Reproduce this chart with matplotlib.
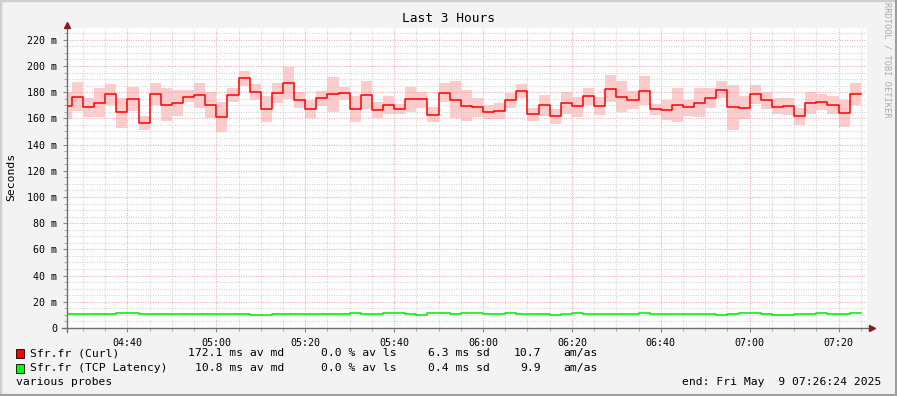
#!/usr/bin/env python3
# -*- coding: utf-8 -*-
"""
Smokeping 風格延遲圖 (Last 3 Hours)
"""

import pandas as pd
import matplotlib

matplotlib.use("Agg")
import matplotlib.pyplot as plt
import matplotlib.dates as mdates
from matplotlib.ticker import MultipleLocator, FuncFormatter
from matplotlib.patches import Rectangle
from matplotlib.lines import Line2D

W, H = 897, 396
MONO = "DejaVu Sans Mono"

# 時間範圍 (每格 150 秒, 第一格不完整)
start_time = "2025-05-09 04:26:24"
end_time = "2025-05-09 07:26:24"
first_edge = "2025-05-09 04:27:30"
step_seconds = 150

# Sfr.fr (Curl) 中位數與煙霧帶 (ms)
curl_median = [
    169.1, 176.0, 168.6, 171.4, 178.3, 164.8, 174.7, 156.4, 179.0, 170.1,
    171.7, 176.7, 177.5, 170.1, 161.0, 177.8, 190.7, 180.3, 167.3, 179.3,
    186.9, 174.2, 167.3, 175.7, 178.5, 179.3, 167.3, 177.8, 166.3, 170.1,
    167.3, 175.0, 175.0, 162.5, 179.3, 173.9, 169.6, 168.6, 164.8, 165.5,
    173.9, 180.8, 163.3, 170.1, 161.7, 171.4, 169.4, 177.0, 169.4, 182.3,
    176.7, 173.9, 180.8, 167.3, 166.3, 170.1, 168.6, 171.7, 175.7, 181.8,
    168.6, 167.8, 178.5, 173.9, 168.6, 169.4, 161.7, 171.7, 172.4, 170.1,
    164.0, 178.5,
]
curl_high = [
    180.0, 188.0, 175.2, 182.9, 186.2, 175.7, 184.1, 162.0, 187.2, 182.9,
    181.8, 181.8, 186.9, 180.0, 172.6, 183.4, 196.3, 186.4, 177.0, 187.2,
    199.6, 179.8, 174.2, 181.1, 191.8, 184.1, 177.2, 188.7, 172.6, 177.0,
    171.1, 184.1, 180.0, 168.8, 187.2, 188.7, 181.8, 175.7, 170.1, 171.7,
    179.5, 186.4, 168.1, 178.0, 167.3, 179.8, 176.2, 183.4, 176.2, 193.3,
    188.7, 181.1, 192.5, 170.9, 174.4, 182.9, 174.4, 182.9, 182.9, 188.9,
    185.6, 177.2, 185.6, 180.3, 175.2, 175.7, 168.1, 179.8, 178.8, 177.0,
    174.4, 187.2,
]
curl_low = [
    159.4, 165.3, 161.2, 161.2, 170.4, 153.0, 165.8, 151.3, 170.4, 157.7,
    161.5, 172.2, 167.6, 160.2, 149.3, 172.2, 185.1, 173.7, 156.9, 171.4,
    174.7, 167.6, 160.5, 169.1, 164.5, 173.7, 156.9, 167.1, 160.5, 163.0,
    163.0, 165.0, 168.3, 156.9, 172.2, 160.2, 157.7, 161.2, 159.2, 159.9,
    168.3, 175.2, 157.7, 162.0, 156.1, 163.3, 161.2, 170.4, 162.8, 172.2,
    164.5, 167.3, 169.9, 162.8, 158.4, 156.9, 162.0, 161.2, 168.3, 175.2,
    151.3, 159.2, 171.1, 167.3, 163.0, 162.5, 154.6, 163.3, 166.6, 163.0,
    153.8, 170.1,
]

# Sfr.fr (TCP Latency) 中位數 (ms)
tcp_median = [
    10.7, 10.7, 10.7, 10.7, 10.7, 11.5, 11.5, 10.7, 10.7, 10.7,
    10.7, 10.7, 10.7, 10.7, 10.7, 10.7, 10.7, 9.8, 9.8, 10.7,
    10.7, 10.7, 10.7, 10.7, 10.7, 10.7, 11.5, 10.5, 10.5, 11.5,
    11.5, 10.5, 9.8, 11.5, 11.5, 10.7, 11.5, 11.5, 10.7, 11.0,
    11.5, 10.7, 10.7, 10.7, 9.8, 10.5, 11.5, 10.5, 10.5, 10.5,
    10.5, 10.5, 11.5, 10.5, 10.5, 10.5, 10.5, 10.5, 10.5, 9.8,
    10.7, 11.5, 11.5, 10.7, 10.0, 10.0, 10.5, 10.7, 11.5, 10.7,
    10.7, 11.5,
]

# 圖例文字
legend_names = ["Sfr.fr (Curl)", "Sfr.fr (TCP Latency)"]
legend_colors = ["#ff0000", "#00ff00"]
legend_avg = ["172.1", "10.8"]
legend_loss = ["0.0", "0.0"]
legend_sd = ["6.3", "0.4"]
legend_amas = ["10.7", "9.9"]

y_ticks = [0, 20, 40, 60, 80, 100, 120, 140, 160, 180, 200, 220]


def px(x, y):
    """像素座標轉換為 figure 比例"""
    return x / W, 1 - y / H


def main():
    fig = plt.figure(figsize=(W / 100, H / 100), dpi=100, facecolor="#f3f3f3")

    # 外框陰影
    fig.patches.append(Rectangle((0, 0), 1, 1, transform=fig.transFigure,
                                 fill=False, edgecolor="#cfcfcf", linewidth=2.5))
    fig.add_artist(Line2D([1 - 1.5 / W, 1 - 1.5 / W], [0, 1], color="#9e9e9e",
                          linewidth=2.2, transform=fig.transFigure))
    fig.add_artist(Line2D([0, 1], [1.5 / H, 1.5 / H], color="#9e9e9e",
                          linewidth=2.2, transform=fig.transFigure))

    left, bottom = px(67, 328)
    ax = fig.add_axes([left, bottom, 800 / W, 300 / H], facecolor="white")

    n = len(curl_median)
    edges = pd.date_range(first_edge, periods=n, freq=f"{step_seconds}s")
    edges = edges.insert(0, pd.Timestamp(start_time))
    xs = edges.to_pydatetime()

    def ext(vals):
        return list(vals) + [vals[-1]]

    # 煙霧帶
    ax.fill_between(xs, ext(curl_low), ext(curl_high), step="post",
                    facecolor="#ffcccc", edgecolor="none", zorder=1)
    ax.fill_between(xs, ext([v - 0.4 for v in tcp_median]),
                    ext([v + 0.4 for v in tcp_median]), step="post",
                    facecolor="#ccffcc", edgecolor="none", zorder=1)

    # 中位數線
    ax.step(xs, ext(curl_median), where="post", color="#ff0000",
            linewidth=1.1, zorder=4)
    ax.step(xs, ext(tcp_median), where="post", color="#00ee00",
            linewidth=1.1, zorder=4)

    ax.set_xlim(pd.Timestamp(start_time), pd.Timestamp(end_time))
    ax.set_ylim(0, 229)

    # 格線
    ax.xaxis.set_major_locator(mdates.MinuteLocator(byminute=[0, 20, 40]))
    ax.xaxis.set_minor_locator(mdates.MinuteLocator(byminute=range(0, 60, 5)))
    ax.xaxis.set_major_formatter(mdates.DateFormatter("%H:%M"))
    ax.yaxis.set_major_locator(MultipleLocator(20))
    ax.yaxis.set_minor_locator(MultipleLocator(5))
    ax.set_yticks(y_ticks)
    ax.yaxis.set_major_formatter(
        FuncFormatter(lambda v, p: "0" if v == 0 else f"{int(v)} m"))

    dots = (0, (0.8, 1.4))
    ax.grid(which="minor", color="#cccccc", linestyle=dots, linewidth=0.8, zorder=2)
    ax.grid(which="major", color="#f0a0a0", linestyle=dots, linewidth=0.8, zorder=2)
    ax.set_axisbelow(False)

    for s in ax.spines.values():
        s.set_visible(False)

    ax.tick_params(which="major", length=3, width=0.8, color="#888888",
                   labelsize=7.2, labelfontfamily=MONO, labelcolor="#000000")
    ax.tick_params(which="minor", length=2, width=0.7, color="#aaaaaa")
    ax.tick_params(axis="x", which="major", pad=4)
    ax.tick_params(axis="y", which="major", pad=4)

    # 座標軸與箭頭
    ax.add_line(Line2D([-0.006, 1.004], [0, 0], transform=ax.transAxes,
                       color="#6f6f6f", linewidth=1.0, clip_on=False, zorder=5))
    ax.add_line(Line2D([0, 0], [-0.012, 1.0], transform=ax.transAxes,
                       color="#6f6f6f", linewidth=1.0, clip_on=False, zorder=5))
    ax.plot([1.006], [0], marker=">", markersize=4.5, color="#8b1a1a",
            transform=ax.transAxes, clip_on=False, zorder=6)
    ax.plot([0], [1.01], marker="^", markersize=4.5, color="#8b1a1a",
            transform=ax.transAxes, clip_on=False, zorder=6)

    # 標題與標籤
    fig.text(*px(448, 19), "Last 3 Hours", ha="center", va="center",
             fontsize=9.3, family=MONO)
    fig.text(*px(11, 177), "Seconds", ha="center", va="center", rotation=90,
             fontsize=8.2, family=MONO)
    fig.text(*px(887, 60), "RRDTOOL / TOBI OETIKER", ha="center", va="center",
             rotation=270, fontsize=6.2, family=MONO, color="#aaaaaa")

    # 圖例
    rows_y = [353, 368]
    for i in range(2):
        y = rows_y[i]
        fig.patches.append(Rectangle(px(16, y + 4.5), 8 / W, 9 / H,
                                     transform=fig.transFigure,
                                     facecolor=legend_colors[i],
                                     edgecolor="#000000", linewidth=0.6))
        kw = dict(va="center", fontsize=8.2, family=MONO)
        fig.text(*px(30, y), legend_names[i], ha="left", **kw)
        fig.text(*px(284, y), f"{legend_avg[i]} ms av md", ha="right", **kw)
        fig.text(*px(397, y), f"{legend_loss[i]} % av ls", ha="right", **kw)
        fig.text(*px(490, y), f"{legend_sd[i]} ms sd", ha="right", **kw)
        fig.text(*px(541, y), legend_amas[i], ha="right", **kw)
        fig.text(*px(563, y), "am/as", ha="left", **kw)

    fig.text(*px(16, 382), "various probes", ha="left", va="center",
             fontsize=8.2, family=MONO)
    fig.text(*px(881, 382), "end: Fri May  9 07:26:24 2025", ha="right",
             va="center", fontsize=8.2, family=MONO)

    fig.savefig("out.png", dpi=100, facecolor=fig.get_facecolor())


if __name__ == "__main__":
    main()
